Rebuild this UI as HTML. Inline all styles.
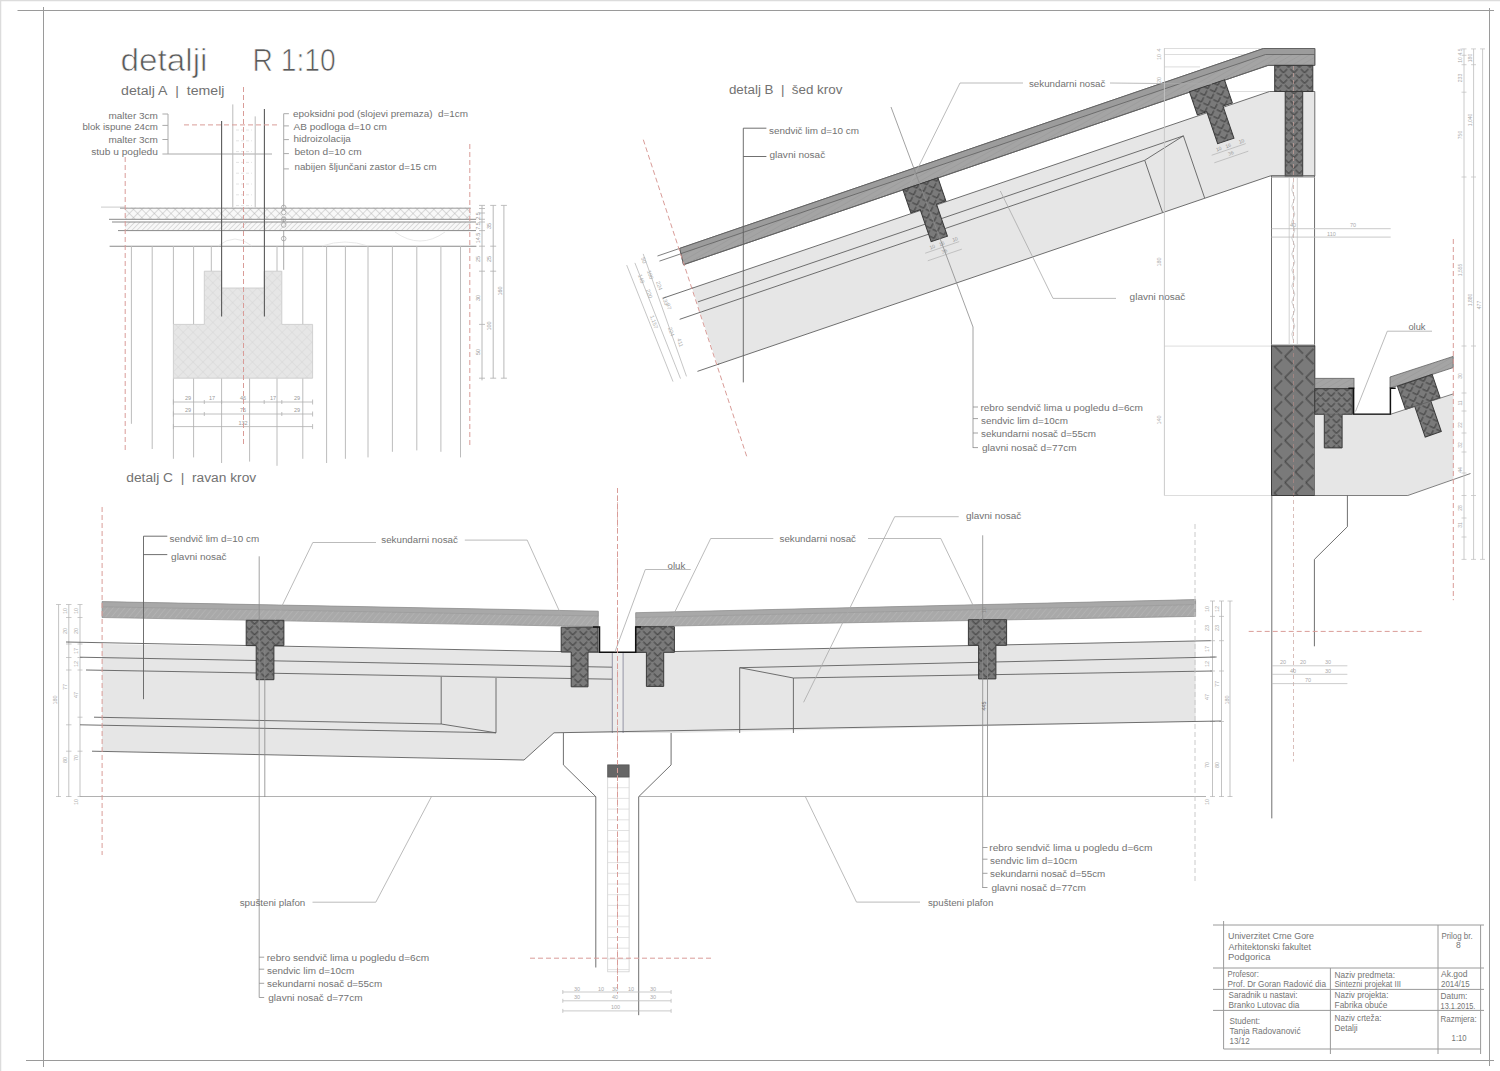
<!DOCTYPE html>
<html><head><meta charset="utf-8"><style>
html,body{margin:0;padding:0;background:#fff;width:1500px;height:1071px;overflow:hidden}
svg{display:block}
text{font-family:"Liberation Sans",sans-serif}
</style></head><body>
<svg width="1500" height="1071" viewBox="0 0 1500 1071">
<rect width="1500" height="1071" fill="#fff"/>
<defs>
<pattern id="dia" width="7.5" height="7.5" patternUnits="userSpaceOnUse" patternTransform="rotate(45)">
 <rect width="7.5" height="7.5" fill="#7a7a7a"/>
 <path d="M6.5,6.5 H1.2 M6.5,6.5 V1.2" stroke="#333" stroke-width="0.9" fill="none"/>
</pattern>
<pattern id="diaW" width="14.85" height="14.85" patternUnits="userSpaceOnUse" patternTransform="translate(1271.5,346) rotate(45)">
 <rect width="14.85" height="14.85" fill="#7a7a7a"/>
 <path d="M2,12.85 V2.05 M2,12.85 H12.8" stroke="#333" stroke-width="0.9" fill="none"/>
</pattern>
<pattern id="diaL" width="7" height="7" patternUnits="userSpaceOnUse" patternTransform="rotate(45)">
 <rect width="7" height="7" fill="#e6e6e6"/>
 <path d="M0,0 H7 M0,0 V7" stroke="#cfcfcf" stroke-width="0.7"/>
</pattern>
<pattern id="xh" width="5.9" height="5.9" patternUnits="userSpaceOnUse" patternTransform="rotate(45)">
 <rect width="5.9" height="5.9" fill="#f8f8f8"/>
 <path d="M0,0 H5.9 M0,0 V5.9" stroke="#a9a9a9" stroke-width="0.8"/>
</pattern>
<pattern id="hatch" width="3.6" height="3.6" patternUnits="userSpaceOnUse" patternTransform="rotate(45)">
 <rect width="3.6" height="3.6" fill="#f8f8f8"/>
 <path d="M0,0 V3.6" stroke="#b0b0b0" stroke-width="0.8"/>
</pattern>
<pattern id="phatch" width="4.5" height="4.5" patternUnits="userSpaceOnUse" patternTransform="rotate(40)">
 <rect width="4.5" height="4.5" fill="#a9a9a9"/>
 <path d="M0,0 V4.5" stroke="#bababa" stroke-width="1"/>
</pattern>
<pattern id="phatchB" width="4.5" height="4.5" patternUnits="userSpaceOnUse" patternTransform="rotate(60)">
 <rect width="4.5" height="4.5" fill="#a4a4a4"/>
 <path d="M0,0 V4.5" stroke="#969696" stroke-width="0.9"/>
</pattern>
</defs>
<line x1="0" y1="0.5" x2="1500" y2="0.5" stroke="#dcdcdc" stroke-width="1.5" />
<line x1="0.5" y1="0" x2="0.5" y2="1071" stroke="#dcdcdc" stroke-width="1.5" />
<line x1="17.5" y1="10.5" x2="1494" y2="10.5" stroke="#9a9a9a" stroke-width="1" />
<line x1="43.5" y1="7" x2="43.5" y2="1067" stroke="#9a9a9a" stroke-width="1" />
<line x1="26" y1="1060.5" x2="1494" y2="1060.5" stroke="#9a9a9a" stroke-width="1" />
<line x1="1489.5" y1="8" x2="1489.5" y2="1066" stroke="#9a9a9a" stroke-width="1" />
<text x="120.5" y="71.3" font-size="31" fill="#5a5a5a" text-anchor="start" textLength="87" lengthAdjust="spacingAndGlyphs" stroke="#fff" stroke-width="0.7">detalji</text>
<text x="252.5" y="71.3" font-size="30.5" fill="#5a5a5a" text-anchor="start" textLength="83.2" lengthAdjust="spacingAndGlyphs" stroke="#fff" stroke-width="0.7">R 1:10</text>
<text x="121.1" y="95" font-size="12.5" fill="#727272" text-anchor="start" textLength="103.4" lengthAdjust="spacingAndGlyphs" >detalj A&#160;&#160;|&#160;&#160;temelj</text>
<text x="728.9" y="93.7" font-size="12.5" fill="#727272" text-anchor="start" textLength="113.5" lengthAdjust="spacingAndGlyphs" >detalj B&#160;&#160;|&#160;&#160;šed krov</text>
<text x="126.3" y="481.7" font-size="12.5" fill="#727272" text-anchor="start" textLength="129.9" lengthAdjust="spacingAndGlyphs" >detalj C&#160;&#160;|&#160;&#160;ravan krov</text>
<text x="108.5" y="118.5" font-size="9.7" fill="#727272" text-anchor="start" textLength="49.4" lengthAdjust="spacingAndGlyphs" >malter 3cm</text>
<text x="82.4" y="130.3" font-size="9.7" fill="#727272" text-anchor="start" textLength="75.5" lengthAdjust="spacingAndGlyphs" >blok ispune 24cm</text>
<text x="108.5" y="143.3" font-size="9.7" fill="#727272" text-anchor="start" textLength="49.4" lengthAdjust="spacingAndGlyphs" >malter 3cm</text>
<text x="91.2" y="155.3" font-size="9.7" fill="#727272" text-anchor="start" textLength="66.7" lengthAdjust="spacingAndGlyphs" >stub u pogledu</text>
<line x1="168" y1="114" x2="168" y2="154" stroke="#aaa" stroke-width="1" />
<line x1="162.4" y1="114" x2="168" y2="114" stroke="#aaa" stroke-width="1" />
<line x1="162.4" y1="125.4" x2="168" y2="125.4" stroke="#aaa" stroke-width="1" />
<line x1="162.4" y1="139.5" x2="168" y2="139.5" stroke="#aaa" stroke-width="1" />
<line x1="162.4" y1="154" x2="272" y2="154" stroke="#aaa" stroke-width="1" />
<text x="293.1" y="116.8" font-size="9.7" fill="#727272" text-anchor="start" textLength="175" lengthAdjust="spacingAndGlyphs" >epoksidni pod (slojevi premaza)&#160;&#160;d=1cm</text>
<text x="293.5" y="129.7" font-size="9.7" fill="#727272" text-anchor="start" textLength="93.4" lengthAdjust="spacingAndGlyphs" >AB podloga d=10 cm</text>
<text x="293.5" y="142.3" font-size="9.7" fill="#727272" text-anchor="start" textLength="57.4" lengthAdjust="spacingAndGlyphs" >hidroizolacija</text>
<text x="294.5" y="155.3" font-size="9.7" fill="#727272" text-anchor="start" textLength="67.2" lengthAdjust="spacingAndGlyphs" >beton d=10 cm</text>
<text x="294.5" y="170" font-size="9.7" fill="#727272" text-anchor="start" textLength="142.1" lengthAdjust="spacingAndGlyphs" >nabijen šljunčani zastor d=15 cm</text>
<line x1="283.7" y1="113.7" x2="283.7" y2="269.8" stroke="#aaa" stroke-width="1" />
<line x1="283.7" y1="113.7" x2="288.9" y2="113.7" stroke="#aaa" stroke-width="1" />
<line x1="283.7" y1="125.9" x2="288.9" y2="125.9" stroke="#aaa" stroke-width="1" />
<line x1="283.7" y1="139.6" x2="288.9" y2="139.6" stroke="#aaa" stroke-width="1" />
<line x1="283.7" y1="153.6" x2="288.9" y2="153.6" stroke="#aaa" stroke-width="1" />
<line x1="283.7" y1="168.9" x2="288.9" y2="168.9" stroke="#aaa" stroke-width="1" />
<line x1="232.8" y1="104.4" x2="232.8" y2="207.6" stroke="#bbb" stroke-width="1" />
<line x1="255.2" y1="116.4" x2="255.2" y2="207.6" stroke="#bbb" stroke-width="1" />
<line x1="236" y1="130" x2="252" y2="130" stroke="#e4e4e4" stroke-width="1" stroke-dasharray="3,2" />
<line x1="236" y1="140.8" x2="252" y2="140.8" stroke="#e4e4e4" stroke-width="1" stroke-dasharray="3,2" />
<line x1="236" y1="151.6" x2="252" y2="151.6" stroke="#e4e4e4" stroke-width="1" stroke-dasharray="3,2" />
<line x1="236" y1="162.4" x2="252" y2="162.4" stroke="#e4e4e4" stroke-width="1" stroke-dasharray="3,2" />
<line x1="236" y1="173.2" x2="252" y2="173.2" stroke="#e4e4e4" stroke-width="1" stroke-dasharray="3,2" />
<line x1="236" y1="184" x2="252" y2="184" stroke="#e4e4e4" stroke-width="1" stroke-dasharray="3,2" />
<line x1="236" y1="194.8" x2="252" y2="194.8" stroke="#e4e4e4" stroke-width="1" stroke-dasharray="3,2" />
<line x1="236" y1="205.6" x2="252" y2="205.6" stroke="#e4e4e4" stroke-width="1" stroke-dasharray="3,2" />
<line x1="236" y1="216.4" x2="252" y2="216.4" stroke="#e4e4e4" stroke-width="1" stroke-dasharray="3,2" />
<rect x="125" y="207.6" width="345.8" height="11.4" fill="url(#xh)" stroke="none" stroke-width="1" />
<rect x="125" y="222" width="345.8" height="8.6" fill="url(#hatch)" stroke="none" stroke-width="1" />
<line x1="101" y1="207.1" x2="125" y2="207.1" stroke="#ccc" stroke-width="1" />
<line x1="120" y1="208.2" x2="470.8" y2="208.2" stroke="#9a9a9a" stroke-width="1" />
<line x1="109" y1="219.3" x2="476" y2="219.3" stroke="#8a8a8a" stroke-width="1" />
<line x1="112" y1="222" x2="476" y2="222" stroke="#8a8a8a" stroke-width="1.1" />
<line x1="118" y1="230.6" x2="476" y2="230.6" stroke="#8a8a8a" stroke-width="1" />
<line x1="109.6" y1="246.2" x2="476.4" y2="246.2" stroke="#8a8a8a" stroke-width="1.1" />
<path d="M218,246 Q235,232 252,246 M322,246 Q345,238 368,246 M395,232 Q420,250 445,232" fill="none" stroke="#e2e2e2" stroke-width="0.8"/>
<line x1="131.4" y1="246" x2="131.4" y2="423.8" stroke="#bcbcbc" stroke-width="1" />
<line x1="152.2" y1="246" x2="152.2" y2="449" stroke="#bcbcbc" stroke-width="1" />
<line x1="173.4" y1="246" x2="173.4" y2="324.4" stroke="#bcbcbc" stroke-width="1" />
<line x1="173.4" y1="378.2" x2="173.4" y2="458.8" stroke="#bcbcbc" stroke-width="1" />
<line x1="193.6" y1="246" x2="193.6" y2="324.4" stroke="#bcbcbc" stroke-width="1" />
<line x1="193.6" y1="378.2" x2="193.6" y2="457.4" stroke="#bcbcbc" stroke-width="1" />
<line x1="211.3" y1="246" x2="211.3" y2="271.2" stroke="#bcbcbc" stroke-width="1" />
<line x1="249.6" y1="378.2" x2="249.6" y2="461.6" stroke="#bcbcbc" stroke-width="1" />
<line x1="277" y1="246" x2="277" y2="271.2" stroke="#bcbcbc" stroke-width="1" />
<line x1="277" y1="378.2" x2="277" y2="465.8" stroke="#bcbcbc" stroke-width="1" />
<line x1="302.8" y1="246" x2="302.8" y2="324.4" stroke="#bcbcbc" stroke-width="1" />
<line x1="302.8" y1="378.2" x2="302.8" y2="458.8" stroke="#bcbcbc" stroke-width="1" />
<line x1="326.6" y1="246" x2="326.6" y2="463" stroke="#bcbcbc" stroke-width="1" />
<line x1="345.4" y1="246" x2="345.4" y2="458.8" stroke="#bcbcbc" stroke-width="1" />
<line x1="368" y1="246" x2="368" y2="457.4" stroke="#bcbcbc" stroke-width="1" />
<line x1="392.4" y1="246" x2="392.4" y2="451.8" stroke="#bcbcbc" stroke-width="1" />
<line x1="416.8" y1="246" x2="416.8" y2="450.4" stroke="#bcbcbc" stroke-width="1" />
<line x1="440.9" y1="246" x2="440.9" y2="451.8" stroke="#bcbcbc" stroke-width="1" />
<line x1="460.5" y1="246" x2="460.5" y2="457.4" stroke="#bcbcbc" stroke-width="1" />
<line x1="221.6" y1="378.2" x2="221.6" y2="463" stroke="#bcbcbc" stroke-width="1" />
<polygon points="204.3,271.2 221.6,271.2 221.6,288 264.2,288 264.2,271.2 281.8,271.2 281.8,324.4 312.6,324.4 312.6,378.2 173.4,378.2 173.4,324.4 204.3,324.4" fill="url(#diaL)" stroke="#c8c8c8" stroke-width="0.8" />
<circle cx="283.7" cy="207.4" r="2.3" fill="none" stroke="#999" stroke-width="0.7"/>
<circle cx="283.7" cy="212.5" r="2.3" fill="none" stroke="#999" stroke-width="0.7"/>
<circle cx="283.7" cy="219.2" r="2.3" fill="none" stroke="#999" stroke-width="0.7"/>
<circle cx="283.7" cy="225" r="2.3" fill="none" stroke="#999" stroke-width="0.7"/>
<circle cx="283.7" cy="238.6" r="2.3" fill="none" stroke="#999" stroke-width="0.7"/>
<line x1="221.6" y1="121" x2="221.6" y2="316.6" stroke="#5a5a5a" stroke-width="1.1" />
<line x1="264.4" y1="109" x2="264.4" y2="316.6" stroke="#5a5a5a" stroke-width="1.1" />
<line x1="482" y1="205.4" x2="482" y2="380.4" stroke="#b0b0b0" stroke-width="0.9" />
<line x1="493.2" y1="205.4" x2="493.2" y2="378.2" stroke="#b0b0b0" stroke-width="0.9" />
<line x1="503.9" y1="205.4" x2="503.9" y2="378.2" stroke="#b0b0b0" stroke-width="0.9" />
<line x1="479" y1="205.4" x2="485" y2="205.4" stroke="#b0b0b0" stroke-width="0.8" />
<line x1="479" y1="208.5" x2="485" y2="208.5" stroke="#b0b0b0" stroke-width="0.8" />
<line x1="479" y1="213" x2="485" y2="213" stroke="#b0b0b0" stroke-width="0.8" />
<line x1="479" y1="219.3" x2="485" y2="219.3" stroke="#b0b0b0" stroke-width="0.8" />
<line x1="479" y1="222" x2="485" y2="222" stroke="#b0b0b0" stroke-width="0.8" />
<line x1="479" y1="230.6" x2="485" y2="230.6" stroke="#b0b0b0" stroke-width="0.8" />
<line x1="479" y1="246.2" x2="485" y2="246.2" stroke="#b0b0b0" stroke-width="0.8" />
<line x1="479" y1="271.2" x2="485" y2="271.2" stroke="#b0b0b0" stroke-width="0.8" />
<line x1="479" y1="324.4" x2="485" y2="324.4" stroke="#b0b0b0" stroke-width="0.8" />
<line x1="479" y1="378.2" x2="485" y2="378.2" stroke="#b0b0b0" stroke-width="0.8" />
<line x1="490.2" y1="205.4" x2="496.2" y2="205.4" stroke="#b0b0b0" stroke-width="0.8" />
<line x1="490.2" y1="246.2" x2="496.2" y2="246.2" stroke="#b0b0b0" stroke-width="0.8" />
<line x1="490.2" y1="271.2" x2="496.2" y2="271.2" stroke="#b0b0b0" stroke-width="0.8" />
<line x1="490.2" y1="378.2" x2="496.2" y2="378.2" stroke="#b0b0b0" stroke-width="0.8" />
<line x1="500.9" y1="205.4" x2="506.9" y2="205.4" stroke="#b0b0b0" stroke-width="0.8" />
<line x1="500.9" y1="378.2" x2="506.9" y2="378.2" stroke="#b0b0b0" stroke-width="0.8" />
<text x="480" y="238" font-size="5.5" fill="#999" text-anchor="middle" transform="rotate(-90 480 238)">14.5</text>
<text x="480" y="226" font-size="5.5" fill="#999" text-anchor="middle" transform="rotate(-90 480 226)">7.5</text>
<text x="480" y="216" font-size="5.5" fill="#999" text-anchor="middle" transform="rotate(-90 480 216)">2.5</text>
<text x="491" y="259" font-size="5.5" fill="#999" text-anchor="middle" transform="rotate(-90 491 259)">25</text>
<text x="480" y="259" font-size="5.5" fill="#999" text-anchor="middle" transform="rotate(-90 480 259)">25</text>
<text x="480" y="298" font-size="5.5" fill="#999" text-anchor="middle" transform="rotate(-90 480 298)">30</text>
<text x="480" y="352" font-size="5.5" fill="#999" text-anchor="middle" transform="rotate(-90 480 352)">50</text>
<text x="491" y="326" font-size="5.5" fill="#999" text-anchor="middle" transform="rotate(-90 491 326)">100</text>
<text x="491" y="226" font-size="5.5" fill="#999" text-anchor="middle" transform="rotate(-90 491 226)">35</text>
<text x="502" y="291" font-size="5.5" fill="#999" text-anchor="middle" transform="rotate(-90 502 291)">160</text>
<line x1="173.4" y1="402" x2="312.6" y2="402" stroke="#b0b0b0" stroke-width="0.8" />
<line x1="173.4" y1="399.5" x2="173.4" y2="404.5" stroke="#b0b0b0" stroke-width="0.8" />
<line x1="312.6" y1="399.5" x2="312.6" y2="404.5" stroke="#b0b0b0" stroke-width="0.8" />
<line x1="173.4" y1="414" x2="312.6" y2="414" stroke="#b0b0b0" stroke-width="0.8" />
<line x1="173.4" y1="411.5" x2="173.4" y2="416.5" stroke="#b0b0b0" stroke-width="0.8" />
<line x1="312.6" y1="411.5" x2="312.6" y2="416.5" stroke="#b0b0b0" stroke-width="0.8" />
<line x1="173.4" y1="426.6" x2="312.6" y2="426.6" stroke="#b0b0b0" stroke-width="0.8" />
<line x1="173.4" y1="424.1" x2="173.4" y2="429.1" stroke="#b0b0b0" stroke-width="0.8" />
<line x1="312.6" y1="424.1" x2="312.6" y2="429.1" stroke="#b0b0b0" stroke-width="0.8" />
<line x1="204.3" y1="400" x2="204.3" y2="404" stroke="#b0b0b0" stroke-width="0.8" />
<line x1="221.6" y1="400" x2="221.6" y2="404" stroke="#b0b0b0" stroke-width="0.8" />
<line x1="264.2" y1="400" x2="264.2" y2="404" stroke="#b0b0b0" stroke-width="0.8" />
<line x1="281.8" y1="400" x2="281.8" y2="404" stroke="#b0b0b0" stroke-width="0.8" />
<line x1="204.3" y1="412" x2="204.3" y2="416" stroke="#b0b0b0" stroke-width="0.8" />
<line x1="281.8" y1="412" x2="281.8" y2="416" stroke="#b0b0b0" stroke-width="0.8" />
<text x="188" y="400" font-size="5.5" fill="#999" text-anchor="middle">29</text>
<text x="212" y="400" font-size="5.5" fill="#999" text-anchor="middle">17</text>
<text x="243" y="400" font-size="5.5" fill="#999" text-anchor="middle">46</text>
<text x="273" y="400" font-size="5.5" fill="#999" text-anchor="middle">17</text>
<text x="297" y="400" font-size="5.5" fill="#999" text-anchor="middle">29</text>
<text x="188" y="412" font-size="5.5" fill="#999" text-anchor="middle">29</text>
<text x="243" y="412" font-size="5.5" fill="#999" text-anchor="middle">76</text>
<text x="297" y="412" font-size="5.5" fill="#999" text-anchor="middle">29</text>
<text x="243" y="424.5" font-size="5.5" fill="#999" text-anchor="middle">132</text>
<line x1="1164.4" y1="48.5" x2="1263" y2="48.5" stroke="#d4d4d4" stroke-width="0.8" />
<line x1="1164.4" y1="54.5" x2="1265" y2="54.5" stroke="#d4d4d4" stroke-width="0.8" />
<line x1="1164.4" y1="66.9" x2="1200" y2="66.9" stroke="#d4d4d4" stroke-width="0.8" />
<line x1="1164.4" y1="91.5" x2="1270" y2="91.5" stroke="#d4d4d4" stroke-width="0.8" />
<line x1="1164.4" y1="175.9" x2="1271.5" y2="175.9" stroke="#d4d4d4" stroke-width="0.8" />
<line x1="1164.4" y1="346.1" x2="1271.5" y2="346.1" stroke="#d4d4d4" stroke-width="0.8" />
<line x1="1164.4" y1="495.5" x2="1271.5" y2="495.5" stroke="#d4d4d4" stroke-width="0.8" />
<text x="1161" y="57" font-size="5.5" fill="#aaa" text-anchor="middle" transform="rotate(-90 1161 57)">10</text>
<text x="1161" y="50" font-size="5.5" fill="#aaa" text-anchor="middle" transform="rotate(-90 1161 50)">4</text>
<text x="1161" y="80" font-size="5.5" fill="#aaa" text-anchor="middle" transform="rotate(-90 1161 80)">20</text>
<text x="1161" y="133" font-size="5.5" fill="#aaa" text-anchor="middle" transform="rotate(-90 1161 133)">80</text>
<text x="1161" y="262" font-size="5.5" fill="#aaa" text-anchor="middle" transform="rotate(-90 1161 262)">180</text>
<text x="1161" y="420" font-size="5.5" fill="#aaa" text-anchor="middle" transform="rotate(-90 1161 420)">140</text>
<line x1="626.7" y1="265.1" x2="673" y2="381.6" stroke="#b8b8b8" stroke-width="0.8" />
<line x1="634.9" y1="262.9" x2="680.5" y2="378.6" stroke="#b8b8b8" stroke-width="0.8" />
<line x1="643.2" y1="253.9" x2="686.5" y2="376.4" stroke="#b8b8b8" stroke-width="0.8" />
<text x="641" y="258" font-size="5.5" fill="#aaa" transform="rotate(71 641 258)">50</text>
<text x="647" y="271" font-size="5.5" fill="#aaa" transform="rotate(71 647 271)">100</text>
<text x="638" y="275" font-size="5.5" fill="#aaa" transform="rotate(71 638 275)">148</text>
<text x="656" y="282" font-size="5.5" fill="#aaa" transform="rotate(71 656 282)">224</text>
<text x="646" y="290" font-size="5.5" fill="#aaa" transform="rotate(71 646 290)">220</text>
<text x="662" y="297" font-size="5.5" fill="#aaa" transform="rotate(71 662 297)">133</text>
<text x="666" y="304" font-size="5.5" fill="#aaa" transform="rotate(71 666 304)">97</text>
<text x="650" y="316" font-size="5.5" fill="#aaa" transform="rotate(71 650 316)">1,157</text>
<text x="668" y="328" font-size="5.5" fill="#aaa" transform="rotate(71 668 328)">224</text>
<text x="677" y="339" font-size="5.5" fill="#aaa" transform="rotate(71 677 339)">411</text>
<polygon points="692.2,288.2 1269.5,91.5 1314.8,91.5 1314.8,175.9 1270.3,175.9 717.3,364.6" fill="#e6e6e6" stroke="none" stroke-width="0" />
<polyline points="692.2,288.2 1269.5,91.5 1314.8,91.5 1314.8,175.9 1270.3,175.9 717.3,364.6" fill="none" stroke="#606060" stroke-width="0.9" />
<polygon points="679.7,248.4 1263.5,48.5 1314.8,48.5 1314.8,65.4 1268,65.4 683.5,264.7" fill="url(#phatchB)" stroke="#606060" stroke-width="0.9" />
<polygon points="679.7,248.4 1263.5,48.5 1314.8,48.5 1314.8,54.5 1265.5,54.5 681,253.6" fill="#9c9c9c" stroke="none" stroke-width="0" />
<polyline points="681,253.6 1265.5,54.5 1314.8,54.5" fill="none" stroke="#606060" stroke-width="0.8" />
<polygon points="679.7,248.4 1263.5,48.5 1314.8,48.5 1314.8,65.4 1268,65.4 683.5,264.7" fill="none" stroke="#606060" stroke-width="0.9" />
<line x1="657.46" y1="256" x2="679.7" y2="248.4" stroke="#606060" stroke-width="0.8" />
<line x1="659.43" y1="261.14" x2="681.48" y2="253.6" stroke="#606060" stroke-width="0.8" />
<line x1="662.92" y1="298.21" x2="693.19" y2="287.86" stroke="#606060" stroke-width="0.9" />
<line x1="679.65" y1="319.33" x2="701.41" y2="311.89" stroke="#606060" stroke-width="0.9" />
<line x1="697.45" y1="371.37" x2="719.21" y2="363.93" stroke="#606060" stroke-width="0.9" />
<line x1="697.98" y1="301.86" x2="1183.38" y2="135.86" stroke="#606060" stroke-width="0.9" />
<line x1="701.41" y1="311.89" x2="1144.71" y2="160.29" stroke="#606060" stroke-width="0.9" />
<line x1="1144.71" y1="160.29" x2="1162.5" y2="212.33" stroke="#606060" stroke-width="0.9" />
<line x1="1183.38" y1="135.86" x2="1204.61" y2="197.93" stroke="#606060" stroke-width="0.9" />
<line x1="1183.38" y1="135.86" x2="1144.71" y2="160.29" stroke="#606060" stroke-width="0.9" />
<g transform="translate(679.7,248.4) rotate(-18.88)">
<polygon points="230.2,16.8 267.2,16.8 267.2,41.2 257.3,41.2 257.3,75 240.1,75 240.1,41.2 230.2,41.2" fill="url(#dia)" stroke="#3a3a3a" stroke-width="1" />
</g>
<g transform="translate(679.7,248.4) rotate(-18.88)">
<polygon points="533,16.8 570,16.8 570,41.2 560.1,41.2 560.1,75 542.9,75 542.9,41.2 533,41.2" fill="url(#dia)" stroke="#3a3a3a" stroke-width="1" />
</g>
<line x1="927.76" y1="260.8" x2="961.82" y2="249.15" stroke="#b0b0b0" stroke-width="0.7" />
<line x1="925.17" y1="253.23" x2="959.23" y2="241.58" stroke="#b0b0b0" stroke-width="0.7" />
<text x="930.2" y="249.4" font-size="5" fill="#999" transform="rotate(-18.88 930.2 249.4)">10</text>
<text x="939.66" y="246.16" font-size="5" fill="#999" transform="rotate(-18.88 939.66 246.16)">16</text>
<text x="952.91" y="241.63" font-size="5" fill="#999" transform="rotate(-18.88 952.91 241.63)">10</text>
<text x="942.25" y="253.73" font-size="5" fill="#999" transform="rotate(-18.88 942.25 253.73)">36</text>
<line x1="1214.27" y1="162.82" x2="1248.33" y2="151.17" stroke="#b0b0b0" stroke-width="0.7" />
<line x1="1211.68" y1="155.25" x2="1245.74" y2="143.6" stroke="#b0b0b0" stroke-width="0.7" />
<text x="1216.71" y="151.41" font-size="5" fill="#999" transform="rotate(-18.88 1216.71 151.41)">10</text>
<text x="1226.17" y="148.18" font-size="5" fill="#999" transform="rotate(-18.88 1226.17 148.18)">16</text>
<text x="1239.42" y="143.65" font-size="5" fill="#999" transform="rotate(-18.88 1239.42 143.65)">10</text>
<text x="1228.76" y="155.75" font-size="5" fill="#999" transform="rotate(-18.88 1228.76 155.75)">36</text>
<rect x="1274.7" y="65.4" width="38.1" height="26.1" fill="url(#dia)" stroke="#3a3a3a" stroke-width="1" />
<rect x="1285.2" y="91.5" width="17.5" height="84.4" fill="url(#dia)" stroke="#3a3a3a" stroke-width="1" />
<line x1="1293.5" y1="66" x2="1293.5" y2="761.6" stroke="#c9a29c" stroke-width="0.7" stroke-dasharray="4,3" />
<rect x="1271.5" y="175.9" width="43.1" height="169.9" fill="none" stroke="#606060" stroke-width="0.9" />
<line x1="1289.2" y1="178" x2="1289.2" y2="344" stroke="#c8c8c8" stroke-width="0.8" />
<line x1="1297.3" y1="178" x2="1297.3" y2="344" stroke="#c8c8c8" stroke-width="0.8" />
<line x1="1271.5" y1="177.5" x2="1314.6" y2="177.5" stroke="#bbb" stroke-width="0.8" />
<line x1="1271.5" y1="344.5" x2="1314.6" y2="344.5" stroke="#bbb" stroke-width="0.8" />
<path d="M1293.3,182 L1291.8,190 L1294.8,198 L1291.8,206 L1294.8,214 L1291.8,222 L1294.8,230 L1291.8,238 L1294.8,246 L1291.8,254 L1294.8,262 L1291.8,270 L1294.8,278 L1291.8,286 L1294.8,294 L1291.8,302 L1294.8,310 L1291.8,318 L1294.8,326 L1291.8,334 L1293.3,340" fill="none" stroke="#bbb" stroke-width="0.7"/>
<line x1="1271.5" y1="228.7" x2="1390.7" y2="228.7" stroke="#bdbdbd" stroke-width="0.8" />
<line x1="1271.5" y1="237.1" x2="1390.7" y2="237.1" stroke="#bdbdbd" stroke-width="0.8" />
<text x="1350" y="227" font-size="5.5" fill="#aaa">70</text><text x="1327" y="235.5" font-size="5.5" fill="#aaa">110</text><text x="1290" y="227" font-size="5.5" fill="#aaa">40</text>
<rect x="1271.5" y="346.1" width="43.3" height="149.4" fill="url(#diaW)" stroke="#3a3a3a" stroke-width="1" />
<line x1="1293.5" y1="346" x2="1293.5" y2="495" stroke="#b08a85" stroke-width="0.7" stroke-dasharray="4,3" />
<polygon points="1314.8,414.3 1390.4,414.3 1453.5,393.8 1453.5,479 1407.8,495.5 1314.8,495.5" fill="#e6e6e6" stroke="none" stroke-width="0" />
<line x1="1407.8" y1="495.5" x2="1470.5" y2="473.5" stroke="#606060" stroke-width="0.8" />
<line x1="1314.8" y1="495.5" x2="1407.8" y2="495.5" stroke="#606060" stroke-width="0.8" />
<rect x="1314.8" y="378.3" width="39.2" height="10.4" fill="url(#phatchB)" stroke="#606060" stroke-width="0.8" />
<polygon points="1314.8,388.7 1352.3,388.7 1352.3,414.3 1342.1,414.3 1342.1,447.9 1324.3,447.9 1324.3,414.3 1314.8,414.3" fill="url(#dia)" stroke="#3a3a3a" stroke-width="1" />
<polygon points="1390,377 1453.2,356.4 1453.2,367.6 1390,388.2" fill="url(#phatchB)" stroke="#606060" stroke-width="0.8" />
<g transform="translate(1397.5,386.3) rotate(-18.88)">
<polygon points="0,0 36.6,0 36.6,24.5 26.8,24.5 26.8,57 9.8,57 9.8,24.5 0,24.5" fill="url(#dia)" stroke="#3a3a3a" stroke-width="1" />
</g>
<polyline points="1348.4,388.2 1353.6,388.2 1353.6,414.3 1390.4,414.3 1390.4,388.2 1395.7,388.2" fill="none" stroke="#111" stroke-width="1.5" />
<line x1="1314.8" y1="414.3" x2="1390.4" y2="414.3" stroke="#606060" stroke-width="0.6" />
<line x1="1390.4" y1="414.3" x2="1453.5" y2="393.8" stroke="#606060" stroke-width="0.8" />
<line x1="1271.8" y1="495.5" x2="1271.8" y2="818.4" stroke="#606060" stroke-width="0.9" />
<polyline points="1347.4,495.5 1347.4,526.7 1314.4,559.4 1314.4,646.3" fill="none" stroke="#606060" stroke-width="0.9" />
<line x1="1271.8" y1="665.8" x2="1347.4" y2="665.8" stroke="#b8b8b8" stroke-width="0.7" />
<line x1="1271.8" y1="674.3" x2="1347.4" y2="674.3" stroke="#b8b8b8" stroke-width="0.7" />
<line x1="1271.8" y1="683.6" x2="1347.4" y2="683.6" stroke="#b8b8b8" stroke-width="0.7" />
<text x="1280" y="664" font-size="5.5" fill="#aaa">20</text><text x="1300" y="664" font-size="5.5" fill="#aaa">20</text><text x="1325" y="664" font-size="5.5" fill="#aaa">30</text><text x="1290" y="672.5" font-size="5.5" fill="#aaa">40</text><text x="1325" y="672.5" font-size="5.5" fill="#aaa">30</text><text x="1305" y="682" font-size="5.5" fill="#aaa">70</text>
<line x1="1464" y1="48.9" x2="1464" y2="559.4" stroke="#bdbdbd" stroke-width="0.8" />
<line x1="1473.6" y1="48.9" x2="1473.6" y2="559.4" stroke="#bdbdbd" stroke-width="0.8" />
<line x1="1482.6" y1="48.9" x2="1482.6" y2="559.4" stroke="#bdbdbd" stroke-width="0.8" />
<line x1="1461.5" y1="48.9" x2="1466.5" y2="48.9" stroke="#bdbdbd" stroke-width="0.7" />
<line x1="1461.5" y1="55.3" x2="1466.5" y2="55.3" stroke="#bdbdbd" stroke-width="0.7" />
<line x1="1461.5" y1="64.7" x2="1466.5" y2="64.7" stroke="#bdbdbd" stroke-width="0.7" />
<line x1="1461.5" y1="92.2" x2="1466.5" y2="92.2" stroke="#bdbdbd" stroke-width="0.7" />
<line x1="1461.5" y1="177" x2="1466.5" y2="177" stroke="#bdbdbd" stroke-width="0.7" />
<line x1="1461.5" y1="346" x2="1466.5" y2="346" stroke="#bdbdbd" stroke-width="0.7" />
<line x1="1461.5" y1="393" x2="1466.5" y2="393" stroke="#bdbdbd" stroke-width="0.7" />
<line x1="1461.5" y1="411" x2="1466.5" y2="411" stroke="#bdbdbd" stroke-width="0.7" />
<line x1="1461.5" y1="433" x2="1466.5" y2="433" stroke="#bdbdbd" stroke-width="0.7" />
<line x1="1461.5" y1="452" x2="1466.5" y2="452" stroke="#bdbdbd" stroke-width="0.7" />
<line x1="1461.5" y1="473" x2="1466.5" y2="473" stroke="#bdbdbd" stroke-width="0.7" />
<line x1="1461.5" y1="495.5" x2="1466.5" y2="495.5" stroke="#bdbdbd" stroke-width="0.7" />
<line x1="1461.5" y1="518" x2="1466.5" y2="518" stroke="#bdbdbd" stroke-width="0.7" />
<line x1="1461.5" y1="537" x2="1466.5" y2="537" stroke="#bdbdbd" stroke-width="0.7" />
<line x1="1461.5" y1="559.4" x2="1466.5" y2="559.4" stroke="#bdbdbd" stroke-width="0.7" />
<line x1="1471" y1="48.9" x2="1476" y2="48.9" stroke="#bdbdbd" stroke-width="0.7" />
<line x1="1471" y1="64.7" x2="1476" y2="64.7" stroke="#bdbdbd" stroke-width="0.7" />
<line x1="1471" y1="177" x2="1476" y2="177" stroke="#bdbdbd" stroke-width="0.7" />
<line x1="1471" y1="346" x2="1476" y2="346" stroke="#bdbdbd" stroke-width="0.7" />
<line x1="1471" y1="495.5" x2="1476" y2="495.5" stroke="#bdbdbd" stroke-width="0.7" />
<line x1="1471" y1="559.4" x2="1476" y2="559.4" stroke="#bdbdbd" stroke-width="0.7" />
<line x1="1480" y1="48.9" x2="1485" y2="48.9" stroke="#bdbdbd" stroke-width="0.7" />
<line x1="1480" y1="559.4" x2="1485" y2="559.4" stroke="#bdbdbd" stroke-width="0.7" />
<text x="1462" y="52" font-size="5" fill="#aaa" text-anchor="middle" transform="rotate(-90 1462 52)">4.5</text>
<text x="1462" y="60" font-size="5" fill="#aaa" text-anchor="middle" transform="rotate(-90 1462 60)">10</text>
<text x="1462" y="78" font-size="5" fill="#aaa" text-anchor="middle" transform="rotate(-90 1462 78)">233</text>
<text x="1462" y="135" font-size="5" fill="#aaa" text-anchor="middle" transform="rotate(-90 1462 135)">750</text>
<text x="1462" y="470" font-size="5" fill="#aaa" text-anchor="middle" transform="rotate(-90 1462 470)">44</text>
<text x="1462" y="508" font-size="5" fill="#aaa" text-anchor="middle" transform="rotate(-90 1462 508)">28</text>
<text x="1462" y="525" font-size="5" fill="#aaa" text-anchor="middle" transform="rotate(-90 1462 525)">31</text>
<text x="1462" y="376" font-size="5" fill="#aaa" text-anchor="middle" transform="rotate(-90 1462 376)">30</text>
<text x="1462" y="403" font-size="5" fill="#aaa" text-anchor="middle" transform="rotate(-90 1462 403)">11</text>
<text x="1462" y="425" font-size="5" fill="#aaa" text-anchor="middle" transform="rotate(-90 1462 425)">22</text>
<text x="1462" y="445" font-size="5" fill="#aaa" text-anchor="middle" transform="rotate(-90 1462 445)">32</text>
<text x="1471.5" y="58" font-size="5" fill="#aaa" text-anchor="middle" transform="rotate(-90 1471.5 58)">180</text>
<text x="1471.5" y="120" font-size="5" fill="#aaa" text-anchor="middle" transform="rotate(-90 1471.5 120)">1,040</text>
<text x="1471.5" y="300" font-size="5" fill="#aaa" text-anchor="middle" transform="rotate(-90 1471.5 300)">1,880</text>
<text x="1480.5" y="305" font-size="5" fill="#aaa" text-anchor="middle" transform="rotate(-90 1480.5 305)">477</text>
<text x="1462" y="270" font-size="5" fill="#aaa" text-anchor="middle" transform="rotate(-90 1462 270)">1,555</text>
<text x="769" y="134.2" font-size="9.7" fill="#727272" text-anchor="start" textLength="89.9" lengthAdjust="spacingAndGlyphs" >sendvič lim d=10 cm</text>
<text x="769.5" y="157.8" font-size="9.7" fill="#727272" text-anchor="start" textLength="55.7" lengthAdjust="spacingAndGlyphs" >glavni nosač</text>
<line x1="743.3" y1="128.2" x2="743.3" y2="382.4" stroke="#606060" stroke-width="0.9" />
<line x1="743.3" y1="128.2" x2="766.4" y2="128.2" stroke="#606060" stroke-width="0.9" />
<line x1="743.3" y1="156.5" x2="766.4" y2="156.5" stroke="#606060" stroke-width="0.9" />
<text x="1029" y="86.6" font-size="9.7" fill="#727272" text-anchor="start" textLength="76.4" lengthAdjust="spacingAndGlyphs" >sekundarni nosač</text>
<polyline points="1023,83 960,83 909,186" fill="none" stroke="#aaa" stroke-width="0.8" />
<polyline points="1110,83 1212,84" fill="none" stroke="#aaa" stroke-width="0.8" />
<polyline points="891,107 973,327 973,448" fill="none" stroke="#8a8a8a" stroke-width="0.8" />
<line x1="973" y1="407" x2="978" y2="407" stroke="#8a8a8a" stroke-width="0.8" />
<line x1="973" y1="418.6" x2="978" y2="418.6" stroke="#8a8a8a" stroke-width="0.8" />
<line x1="973" y1="433" x2="978" y2="433" stroke="#8a8a8a" stroke-width="0.8" />
<line x1="973" y1="447.6" x2="978" y2="447.6" stroke="#8a8a8a" stroke-width="0.8" />
<text x="980.4" y="411" font-size="9.7" fill="#727272" text-anchor="start" textLength="162.6" lengthAdjust="spacingAndGlyphs" >rebro sendvič lima u pogledu d=6cm</text>
<text x="981" y="424" font-size="9.7" fill="#727272" text-anchor="start" textLength="87" lengthAdjust="spacingAndGlyphs" >sendvic lim d=10cm</text>
<text x="981" y="437" font-size="9.7" fill="#727272" text-anchor="start" textLength="115" lengthAdjust="spacingAndGlyphs" >sekundarni nosač d=55cm</text>
<text x="982" y="451" font-size="9.7" fill="#727272" text-anchor="start" textLength="94.6" lengthAdjust="spacingAndGlyphs" >glavni nosač d=77cm</text>
<text x="1129.6" y="300.4" font-size="9.7" fill="#727272" text-anchor="start" textLength="55.8" lengthAdjust="spacingAndGlyphs" >glavni nosač</text>
<polyline points="1116,298.4 1053,298.4 1000.3,191" fill="none" stroke="#aaa" stroke-width="0.8" />
<text x="1408.4" y="329.7" font-size="9.7" fill="#727272" text-anchor="start" textLength="17.1" lengthAdjust="spacingAndGlyphs" >oluk</text>
<polyline points="1432,331.2 1387.3,331.2 1355.5,411.5" fill="none" stroke="#aaa" stroke-width="0.8" />
<line x1="58.6" y1="604.5" x2="58.6" y2="797" stroke="#b4b4b4" stroke-width="0.8" />
<line x1="68.8" y1="604.5" x2="68.8" y2="797" stroke="#b4b4b4" stroke-width="0.8" />
<line x1="80" y1="604.5" x2="80" y2="797" stroke="#b4b4b4" stroke-width="0.8" />
<line x1="66" y1="604.5" x2="71.5" y2="604.5" stroke="#b4b4b4" stroke-width="0.7" />
<line x1="66" y1="617.5" x2="71.5" y2="617.5" stroke="#b4b4b4" stroke-width="0.7" />
<line x1="66" y1="644" x2="71.5" y2="644" stroke="#b4b4b4" stroke-width="0.7" />
<line x1="66" y1="657.5" x2="71.5" y2="657.5" stroke="#b4b4b4" stroke-width="0.7" />
<line x1="66" y1="670" x2="71.5" y2="670" stroke="#b4b4b4" stroke-width="0.7" />
<line x1="66" y1="724.8" x2="71.5" y2="724.8" stroke="#b4b4b4" stroke-width="0.7" />
<line x1="66" y1="751.2" x2="71.5" y2="751.2" stroke="#b4b4b4" stroke-width="0.7" />
<line x1="66" y1="796.5" x2="71.5" y2="796.5" stroke="#b4b4b4" stroke-width="0.7" />
<line x1="77.5" y1="604.5" x2="82.5" y2="604.5" stroke="#b4b4b4" stroke-width="0.7" />
<line x1="77.5" y1="617.5" x2="82.5" y2="617.5" stroke="#b4b4b4" stroke-width="0.7" />
<line x1="77.5" y1="644" x2="82.5" y2="644" stroke="#b4b4b4" stroke-width="0.7" />
<line x1="77.5" y1="657.5" x2="82.5" y2="657.5" stroke="#b4b4b4" stroke-width="0.7" />
<line x1="77.5" y1="670" x2="82.5" y2="670" stroke="#b4b4b4" stroke-width="0.7" />
<line x1="77.5" y1="717.2" x2="82.5" y2="717.2" stroke="#b4b4b4" stroke-width="0.7" />
<line x1="77.5" y1="751.2" x2="82.5" y2="751.2" stroke="#b4b4b4" stroke-width="0.7" />
<line x1="77.5" y1="796.5" x2="82.5" y2="796.5" stroke="#b4b4b4" stroke-width="0.7" />
<line x1="56" y1="604.5" x2="61" y2="604.5" stroke="#b4b4b4" stroke-width="0.7" />
<line x1="56" y1="796.5" x2="61" y2="796.5" stroke="#b4b4b4" stroke-width="0.7" />
<text x="67" y="611" font-size="5.5" fill="#aaa" text-anchor="middle" transform="rotate(-90 67 611)">10</text>
<text x="78" y="611" font-size="5.5" fill="#aaa" text-anchor="middle" transform="rotate(-90 78 611)">10</text>
<text x="67" y="631" font-size="5.5" fill="#aaa" text-anchor="middle" transform="rotate(-90 67 631)">20</text>
<text x="78" y="631" font-size="5.5" fill="#aaa" text-anchor="middle" transform="rotate(-90 78 631)">20</text>
<text x="78" y="651" font-size="5.5" fill="#aaa" text-anchor="middle" transform="rotate(-90 78 651)">17</text>
<text x="78" y="664" font-size="5.5" fill="#aaa" text-anchor="middle" transform="rotate(-90 78 664)">12</text>
<text x="67" y="687" font-size="5.5" fill="#aaa" text-anchor="middle" transform="rotate(-90 67 687)">77</text>
<text x="78" y="695" font-size="5.5" fill="#aaa" text-anchor="middle" transform="rotate(-90 78 695)">47</text>
<text x="57" y="700" font-size="5.5" fill="#aaa" text-anchor="middle" transform="rotate(-90 57 700)">180</text>
<text x="67" y="760" font-size="5.5" fill="#aaa" text-anchor="middle" transform="rotate(-90 67 760)">80</text>
<text x="78" y="758" font-size="5.5" fill="#aaa" text-anchor="middle" transform="rotate(-90 78 758)">70</text>
<text x="78" y="802" font-size="5.5" fill="#aaa" text-anchor="middle" transform="rotate(-90 78 802)">10</text>
<line x1="1212.5" y1="601" x2="1212.5" y2="797" stroke="#b4b4b4" stroke-width="0.8" />
<line x1="1221.5" y1="601" x2="1221.5" y2="797" stroke="#b4b4b4" stroke-width="0.8" />
<line x1="1230" y1="601" x2="1230" y2="797" stroke="#b4b4b4" stroke-width="0.8" />
<line x1="1210" y1="601" x2="1215" y2="601" stroke="#b4b4b4" stroke-width="0.7" />
<line x1="1210" y1="616.4" x2="1215" y2="616.4" stroke="#b4b4b4" stroke-width="0.7" />
<line x1="1210" y1="640.7" x2="1215" y2="640.7" stroke="#b4b4b4" stroke-width="0.7" />
<line x1="1210" y1="657" x2="1215" y2="657" stroke="#b4b4b4" stroke-width="0.7" />
<line x1="1210" y1="671" x2="1215" y2="671" stroke="#b4b4b4" stroke-width="0.7" />
<line x1="1210" y1="721.5" x2="1215" y2="721.5" stroke="#b4b4b4" stroke-width="0.7" />
<line x1="1210" y1="796.5" x2="1215" y2="796.5" stroke="#b4b4b4" stroke-width="0.7" />
<line x1="1219" y1="601" x2="1224" y2="601" stroke="#b4b4b4" stroke-width="0.7" />
<line x1="1219" y1="616.4" x2="1224" y2="616.4" stroke="#b4b4b4" stroke-width="0.7" />
<line x1="1219" y1="640.7" x2="1224" y2="640.7" stroke="#b4b4b4" stroke-width="0.7" />
<line x1="1219" y1="671" x2="1224" y2="671" stroke="#b4b4b4" stroke-width="0.7" />
<line x1="1219" y1="721.5" x2="1224" y2="721.5" stroke="#b4b4b4" stroke-width="0.7" />
<line x1="1219" y1="796.5" x2="1224" y2="796.5" stroke="#b4b4b4" stroke-width="0.7" />
<line x1="1227.5" y1="601" x2="1232.5" y2="601" stroke="#b4b4b4" stroke-width="0.7" />
<line x1="1227.5" y1="796.5" x2="1232.5" y2="796.5" stroke="#b4b4b4" stroke-width="0.7" />
<text x="1209" y="609" font-size="5.5" fill="#aaa" text-anchor="middle" transform="rotate(-90 1209 609)">10</text>
<text x="1219" y="609" font-size="5.5" fill="#aaa" text-anchor="middle" transform="rotate(-90 1219 609)">12</text>
<text x="1209" y="628" font-size="5.5" fill="#aaa" text-anchor="middle" transform="rotate(-90 1209 628)">23</text>
<text x="1219" y="628" font-size="5.5" fill="#aaa" text-anchor="middle" transform="rotate(-90 1219 628)">23</text>
<text x="1209" y="649" font-size="5.5" fill="#aaa" text-anchor="middle" transform="rotate(-90 1209 649)">17</text>
<text x="1209" y="664" font-size="5.5" fill="#aaa" text-anchor="middle" transform="rotate(-90 1209 664)">12</text>
<text x="1219" y="684" font-size="5.5" fill="#aaa" text-anchor="middle" transform="rotate(-90 1219 684)">77</text>
<text x="1209" y="697" font-size="5.5" fill="#aaa" text-anchor="middle" transform="rotate(-90 1209 697)">47</text>
<text x="1229" y="700" font-size="5.5" fill="#aaa" text-anchor="middle" transform="rotate(-90 1229 700)">180</text>
<text x="1209" y="765" font-size="5.5" fill="#aaa" text-anchor="middle" transform="rotate(-90 1209 765)">70</text>
<text x="1219" y="765" font-size="5.5" fill="#aaa" text-anchor="middle" transform="rotate(-90 1219 765)">80</text>
<text x="1209" y="802" font-size="5.5" fill="#aaa" text-anchor="middle" transform="rotate(-90 1209 802)">10</text>
<line x1="80" y1="796.5" x2="596" y2="796.5" stroke="#a8a8a8" stroke-width="0.9" />
<line x1="638.7" y1="796.5" x2="1206" y2="796.5" stroke="#a8a8a8" stroke-width="0.9" />
<polygon points="102,644 599,652.3 636,652.3 1195.6,640.7 1195.6,721.5 670.7,733 554,732.8 524,760 102,751.2" fill="#e6e6e6" stroke="none" stroke-width="0" />
<rect x="612.3" y="652.3" width="10.8" height="80.7" fill="#ececec" stroke="none" stroke-width="1" />
<line x1="612.3" y1="652.3" x2="612.3" y2="733" stroke="#8a8a9e" stroke-width="0.9" />
<line x1="623.1" y1="652.3" x2="623.1" y2="733" stroke="#8a8a9e" stroke-width="0.9" />
<line x1="66" y1="642" x2="599" y2="652.3" stroke="#606060" stroke-width="0.9" />
<line x1="636" y1="652.3" x2="1210.6" y2="640.7" stroke="#606060" stroke-width="0.9" />
<line x1="80" y1="657.2" x2="612" y2="667.2" stroke="#606060" stroke-width="0.9" />
<line x1="86" y1="670" x2="612" y2="679.2" stroke="#606060" stroke-width="0.9" />
<line x1="739.7" y1="667.7" x2="1216.6" y2="657" stroke="#606060" stroke-width="0.9" />
<line x1="793.4" y1="678" x2="1212" y2="671" stroke="#606060" stroke-width="0.9" />
<line x1="94" y1="717.2" x2="441.2" y2="724" stroke="#606060" stroke-width="0.9" />
<line x1="80" y1="724.8" x2="496" y2="732.8" stroke="#606060" stroke-width="0.9" />
<line x1="92" y1="751.2" x2="524" y2="760" stroke="#606060" stroke-width="0.9" />
<polyline points="524,760 554,732.8 1221,721" fill="none" stroke="#606060" stroke-width="0.9" />
<line x1="441.2" y1="676.8" x2="441.2" y2="724" stroke="#606060" stroke-width="0.9" />
<line x1="496" y1="678" x2="496" y2="732.8" stroke="#606060" stroke-width="0.9" />
<line x1="441.2" y1="724" x2="496" y2="732.8" stroke="#606060" stroke-width="0.9" />
<line x1="739.7" y1="667.7" x2="739.7" y2="733" stroke="#606060" stroke-width="0.9" />
<line x1="793.4" y1="678" x2="793.4" y2="733" stroke="#606060" stroke-width="0.9" />
<line x1="739.7" y1="667.7" x2="793.4" y2="678" stroke="#606060" stroke-width="0.9" />
<polygon points="102,601.6 598.3,611.2 598.3,626.7 102,617.5" fill="url(#phatch)" stroke="none" stroke-width="0" />
<polygon points="102,601.6 598.3,611.2 598.3,616 102,606.8" fill="#a8a8a8" stroke="none" stroke-width="0" />
<line x1="102" y1="606.8" x2="598.3" y2="616" stroke="#999" stroke-width="0.6" />
<polygon points="102,601.6 598.3,611.2 598.3,626.7 102,617.5" fill="none" stroke="#8c8c8c" stroke-width="0.7" />
<polygon points="635.7,612.7 1195.6,599.6 1195.6,616.4 635.7,626.7" fill="url(#phatch)" stroke="none" stroke-width="0" />
<polygon points="635.7,612.7 1195.6,599.6 1195.6,604.6 635.7,617.5" fill="#a8a8a8" stroke="none" stroke-width="0" />
<line x1="635.7" y1="617.5" x2="1195.6" y2="604.6" stroke="#999" stroke-width="0.6" />
<polygon points="635.7,612.7 1195.6,599.6 1195.6,616.4 635.7,626.7" fill="none" stroke="#8c8c8c" stroke-width="0.7" />
<polygon points="246.2,620.3 283.9,620.3 283.9,645.6 273.9,645.6 273.9,679.7 256.2,679.7 256.2,645.6 246.2,645.6" fill="url(#dia)" stroke="#3a3a3a" stroke-width="1" />
<polygon points="561.2,627.2 598,627.2 598,652 588,652 588,686.8 571.2,686.8 571.2,652 561.2,652" fill="url(#dia)" stroke="#3a3a3a" stroke-width="1" />
<polygon points="635.7,626.7 674.4,626.7 674.4,652.3 663.7,652.3 663.7,686.4 646.4,686.4 646.4,652.3 635.7,652.3" fill="url(#dia)" stroke="#3a3a3a" stroke-width="1" />
<polygon points="968.4,619.7 1006.6,619.7 1006.6,645.3 995.9,645.3 995.9,678.9 978.6,678.9 978.6,645.3 968.4,645.3" fill="url(#dia)" stroke="#3a3a3a" stroke-width="1" />
<polyline points="593,627 599.5,627 599.5,652.3 635.7,652.3 635.7,627 641,627" fill="none" stroke="#111" stroke-width="1.5" />
<polyline points="563.4,733 563.4,764.9 595.8,796.7 595.8,967.5" fill="none" stroke="#606060" stroke-width="0.9" />
<polyline points="671.1,733 671.1,764.9 638.7,796.7 638.7,1015.2" fill="none" stroke="#606060" stroke-width="0.9" />
<rect x="607.7" y="777" width="21.4" height="194.8" fill="none" stroke="#d0d0d0" stroke-width="0.8" />
<line x1="607.7" y1="787.7" x2="629.1" y2="787.7" stroke="#dadada" stroke-width="0.8" />
<line x1="607.7" y1="798.4" x2="629.1" y2="798.4" stroke="#dadada" stroke-width="0.8" />
<line x1="607.7" y1="809.1" x2="629.1" y2="809.1" stroke="#dadada" stroke-width="0.8" />
<line x1="607.7" y1="819.8" x2="629.1" y2="819.8" stroke="#dadada" stroke-width="0.8" />
<line x1="607.7" y1="830.5" x2="629.1" y2="830.5" stroke="#dadada" stroke-width="0.8" />
<line x1="607.7" y1="841.2" x2="629.1" y2="841.2" stroke="#dadada" stroke-width="0.8" />
<line x1="607.7" y1="851.9" x2="629.1" y2="851.9" stroke="#dadada" stroke-width="0.8" />
<line x1="607.7" y1="862.6" x2="629.1" y2="862.6" stroke="#dadada" stroke-width="0.8" />
<line x1="607.7" y1="873.3" x2="629.1" y2="873.3" stroke="#dadada" stroke-width="0.8" />
<line x1="607.7" y1="884" x2="629.1" y2="884" stroke="#dadada" stroke-width="0.8" />
<line x1="607.7" y1="894.7" x2="629.1" y2="894.7" stroke="#dadada" stroke-width="0.8" />
<line x1="607.7" y1="905.4" x2="629.1" y2="905.4" stroke="#dadada" stroke-width="0.8" />
<line x1="607.7" y1="916.1" x2="629.1" y2="916.1" stroke="#dadada" stroke-width="0.8" />
<line x1="607.7" y1="926.8" x2="629.1" y2="926.8" stroke="#dadada" stroke-width="0.8" />
<line x1="607.7" y1="937.5" x2="629.1" y2="937.5" stroke="#dadada" stroke-width="0.8" />
<line x1="607.7" y1="948.2" x2="629.1" y2="948.2" stroke="#dadada" stroke-width="0.8" />
<line x1="607.7" y1="958.9" x2="629.1" y2="958.9" stroke="#dadada" stroke-width="0.8" />
<line x1="607.7" y1="969.6" x2="629.1" y2="969.6" stroke="#dadada" stroke-width="0.8" />
<rect x="607.7" y="764.9" width="21.4" height="12.1" fill="#666" stroke="#555" stroke-width="0.8" />
<line x1="617.5" y1="488" x2="617.5" y2="993.5" stroke="#d8a8a0" stroke-width="0.7" stroke-dasharray="4,3" />
<line x1="562.8" y1="992" x2="671.1" y2="992" stroke="#b4b4b4" stroke-width="0.7" />
<line x1="562.8" y1="990" x2="562.8" y2="994" stroke="#b4b4b4" stroke-width="0.7" />
<line x1="671.1" y1="990" x2="671.1" y2="994" stroke="#b4b4b4" stroke-width="0.7" />
<line x1="562.8" y1="1000.8" x2="671.1" y2="1000.8" stroke="#b4b4b4" stroke-width="0.7" />
<line x1="562.8" y1="998.8" x2="562.8" y2="1002.8" stroke="#b4b4b4" stroke-width="0.7" />
<line x1="671.1" y1="998.8" x2="671.1" y2="1002.8" stroke="#b4b4b4" stroke-width="0.7" />
<line x1="562.8" y1="1010.9" x2="671.1" y2="1010.9" stroke="#b4b4b4" stroke-width="0.7" />
<line x1="562.8" y1="1008.9" x2="562.8" y2="1012.9" stroke="#b4b4b4" stroke-width="0.7" />
<line x1="671.1" y1="1008.9" x2="671.1" y2="1012.9" stroke="#b4b4b4" stroke-width="0.7" />
<text x="574" y="990.5" font-size="5.5" fill="#aaa">30</text><text x="598" y="990.5" font-size="5.5" fill="#aaa">10</text><text x="612" y="990.5" font-size="5.5" fill="#aaa">30</text><text x="628" y="990.5" font-size="5.5" fill="#aaa">10</text><text x="650" y="990.5" font-size="5.5" fill="#aaa">30</text>
<text x="574" y="999.3" font-size="5.5" fill="#aaa">30</text><text x="612" y="999.3" font-size="5.5" fill="#aaa">40</text><text x="650" y="999.3" font-size="5.5" fill="#aaa">30</text><text x="611" y="1009.4" font-size="5.5" fill="#aaa">100</text>
<text x="169.5" y="541.8" font-size="9.7" fill="#727272" text-anchor="start" textLength="89.6" lengthAdjust="spacingAndGlyphs" >sendvič lim d=10 cm</text>
<text x="171.1" y="559.7" font-size="9.7" fill="#727272" text-anchor="start" textLength="55.5" lengthAdjust="spacingAndGlyphs" >glavni nosač</text>
<line x1="143.5" y1="536.2" x2="143.5" y2="699.2" stroke="#606060" stroke-width="0.9" />
<line x1="143.5" y1="536.2" x2="167.3" y2="536.2" stroke="#606060" stroke-width="0.9" />
<line x1="143.5" y1="554.6" x2="167.3" y2="554.6" stroke="#606060" stroke-width="0.9" />
<text x="381.3" y="542.5" font-size="9.7" fill="#727272" text-anchor="start" textLength="76.6" lengthAdjust="spacingAndGlyphs" >sekundarni nosač</text>
<polyline points="376,542.5 312.8,542.5 275,620.3" fill="none" stroke="#aaa" stroke-width="0.8" />
<polyline points="464.8,540.1 527.2,540.1 566.7,627.2" fill="none" stroke="#aaa" stroke-width="0.8" />
<text x="667.5" y="568.7" font-size="9.7" fill="#727272" text-anchor="start" textLength="17.8" lengthAdjust="spacingAndGlyphs" >oluk</text>
<polyline points="690.7,569.5 645.3,569.5 614.9,652" fill="none" stroke="#aaa" stroke-width="0.8" />
<text x="779.5" y="542" font-size="9.7" fill="#727272" text-anchor="start" textLength="76.5" lengthAdjust="spacingAndGlyphs" >sekundarni nosač</text>
<polyline points="773.3,538.5 710.7,538.5 667.6,626.7" fill="none" stroke="#aaa" stroke-width="0.8" />
<polyline points="868,538.5 940.8,538.5 980,619.7" fill="none" stroke="#aaa" stroke-width="0.8" />
<text x="965.9" y="519.3" font-size="9.7" fill="#727272" text-anchor="start" textLength="55.4" lengthAdjust="spacingAndGlyphs" >glavni nosač</text>
<polyline points="958.7,516.7 894.7,516.7 803.6,702.3" fill="none" stroke="#aaa" stroke-width="0.8" />
<line x1="982.7" y1="535.3" x2="982.7" y2="888" stroke="#8a8a8a" stroke-width="0.8" />
<line x1="982.7" y1="847.5" x2="987.5" y2="847.5" stroke="#8a8a8a" stroke-width="0.8" />
<line x1="982.7" y1="859.2" x2="987.5" y2="859.2" stroke="#8a8a8a" stroke-width="0.8" />
<line x1="982.7" y1="873.3" x2="987.5" y2="873.3" stroke="#8a8a8a" stroke-width="0.8" />
<line x1="982.7" y1="887.5" x2="987.5" y2="887.5" stroke="#8a8a8a" stroke-width="0.8" />
<line x1="987.5" y1="645" x2="987.5" y2="796.5" stroke="#888" stroke-width="0.8" />
<text x="985.5" y="706" font-size="5.5" fill="#666" text-anchor="middle" transform="rotate(-90 985.5 706)">445</text>
<text x="985.5" y="610" font-size="5" fill="#888" text-anchor="middle" transform="rotate(-90 985.5 610)">10</text>
<text x="989.3" y="850.7" font-size="9.7" fill="#727272" text-anchor="start" textLength="163.2" lengthAdjust="spacingAndGlyphs" >rebro sendvič lima u pogledu d=6cm</text>
<text x="990" y="863.5" font-size="9.7" fill="#727272" text-anchor="start" textLength="87.3" lengthAdjust="spacingAndGlyphs" >sendvic lim d=10cm</text>
<text x="990" y="876.5" font-size="9.7" fill="#727272" text-anchor="start" textLength="115.3" lengthAdjust="spacingAndGlyphs" >sekundarni nosač d=55cm</text>
<text x="991.5" y="890.7" font-size="9.7" fill="#727272" text-anchor="start" textLength="94.4" lengthAdjust="spacingAndGlyphs" >glavni nosač d=77cm</text>
<line x1="259.2" y1="556.3" x2="259.2" y2="997.5" stroke="#8a8a8a" stroke-width="0.8" />
<line x1="259.2" y1="957.2" x2="264.2" y2="957.2" stroke="#8a8a8a" stroke-width="0.8" />
<line x1="259.2" y1="969.2" x2="264.2" y2="969.2" stroke="#8a8a8a" stroke-width="0.8" />
<line x1="259.2" y1="983.3" x2="264.2" y2="983.3" stroke="#8a8a8a" stroke-width="0.8" />
<line x1="259.2" y1="997.5" x2="264.2" y2="997.5" stroke="#8a8a8a" stroke-width="0.8" />
<line x1="264.8" y1="650" x2="264.8" y2="797" stroke="#888" stroke-width="0.8" />
<text x="266.7" y="961.3" font-size="9.7" fill="#727272" text-anchor="start" textLength="162.5" lengthAdjust="spacingAndGlyphs" >rebro sendvič lima u pogledu d=6cm</text>
<text x="267" y="974.2" font-size="9.7" fill="#727272" text-anchor="start" textLength="87.2" lengthAdjust="spacingAndGlyphs" >sendvic lim d=10cm</text>
<text x="267" y="987" font-size="9.7" fill="#727272" text-anchor="start" textLength="115.2" lengthAdjust="spacingAndGlyphs" >sekundarni nosač d=55cm</text>
<text x="268.3" y="1000.8" font-size="9.7" fill="#727272" text-anchor="start" textLength="94.2" lengthAdjust="spacingAndGlyphs" >glavni nosač d=77cm</text>
<text x="239.7" y="906.2" font-size="9.7" fill="#727272" text-anchor="start" textLength="65.6" lengthAdjust="spacingAndGlyphs" >spušteni plafon</text>
<polyline points="312.5,902.2 375.8,902.2 431.5,796.5" fill="none" stroke="#aaa" stroke-width="0.8" />
<text x="928" y="905.9" font-size="9.7" fill="#727272" text-anchor="start" textLength="65.3" lengthAdjust="spacingAndGlyphs" >spušteni plafon</text>
<polyline points="920,902.1 856.5,902.1 805.3,796.5" fill="none" stroke="#aaa" stroke-width="0.8" />
<line x1="1213" y1="925" x2="1484" y2="925" stroke="#9a9a9a" stroke-width="1" />
<line x1="1223.6" y1="921" x2="1223.6" y2="1049" stroke="#9a9a9a" stroke-width="1" />
<line x1="1480.6" y1="925" x2="1480.6" y2="1054" stroke="#9a9a9a" stroke-width="1" />
<line x1="1438" y1="925" x2="1438" y2="1054" stroke="#9a9a9a" stroke-width="1" />
<line x1="1330.4" y1="968" x2="1330.4" y2="1054" stroke="#9a9a9a" stroke-width="1" />
<line x1="1213" y1="968" x2="1484" y2="968" stroke="#9a9a9a" stroke-width="1" />
<line x1="1213" y1="989.4" x2="1484" y2="989.4" stroke="#9a9a9a" stroke-width="1" />
<line x1="1213" y1="1010.4" x2="1484" y2="1010.4" stroke="#9a9a9a" stroke-width="1" />
<line x1="1223.6" y1="1049" x2="1480.6" y2="1049" stroke="#9a9a9a" stroke-width="1" />
<text x="1228" y="939.4" font-size="9" fill="#747474" text-anchor="start" textLength="86" lengthAdjust="spacingAndGlyphs" >Univerzitet Crne Gore</text>
<text x="1228.6" y="950" font-size="9" fill="#747474" text-anchor="start" textLength="82.4" lengthAdjust="spacingAndGlyphs" >Arhitektonski fakultet</text>
<text x="1228" y="960.4" font-size="9" fill="#747474" text-anchor="start" textLength="42.4" lengthAdjust="spacingAndGlyphs" >Podgorica</text>
<text x="1441.4" y="938.6" font-size="8.5" fill="#747474" text-anchor="start" textLength="31.2" lengthAdjust="spacingAndGlyphs" >Prilog br.</text>
<text x="1456" y="948.4" font-size="8.5" fill="#747474" text-anchor="start" >8</text>
<text x="1227.6" y="977.4" font-size="8.5" fill="#747474" text-anchor="start" textLength="31.2" lengthAdjust="spacingAndGlyphs" >Profesor:</text>
<text x="1227.6" y="987" font-size="8.5" fill="#747474" text-anchor="start" textLength="98.4" lengthAdjust="spacingAndGlyphs" >Prof. Dr Goran Radović dia</text>
<text x="1334.4" y="977.6" font-size="8.5" fill="#747474" text-anchor="start" textLength="60.6" lengthAdjust="spacingAndGlyphs" >Naziv predmeta:</text>
<text x="1334.4" y="987" font-size="8.5" fill="#747474" text-anchor="start" textLength="66.6" lengthAdjust="spacingAndGlyphs" >Sintezni projekat III</text>
<text x="1441" y="977" font-size="8.5" fill="#747474" text-anchor="start" textLength="26.4" lengthAdjust="spacingAndGlyphs" >Ak.god</text>
<text x="1441" y="987" font-size="8.5" fill="#747474" text-anchor="start" textLength="28.6" lengthAdjust="spacingAndGlyphs" >2014/15</text>
<text x="1228.6" y="998.4" font-size="8.5" fill="#747474" text-anchor="start" textLength="69" lengthAdjust="spacingAndGlyphs" >Saradnik u nastavi:</text>
<text x="1228.6" y="1008" font-size="8.5" fill="#747474" text-anchor="start" textLength="70.8" lengthAdjust="spacingAndGlyphs" >Branko Lutovac dia</text>
<text x="1334.6" y="998" font-size="8.5" fill="#747474" text-anchor="start" textLength="53.8" lengthAdjust="spacingAndGlyphs" >Naziv projekta:</text>
<text x="1334.6" y="1008" font-size="8.5" fill="#747474" text-anchor="start" textLength="52.8" lengthAdjust="spacingAndGlyphs" >Fabrika obuće</text>
<text x="1440.6" y="999.4" font-size="8.5" fill="#747474" text-anchor="start" textLength="26.8" lengthAdjust="spacingAndGlyphs" >Datum:</text>
<text x="1440.6" y="1009" font-size="8.5" fill="#747474" text-anchor="start" textLength="34.8" lengthAdjust="spacingAndGlyphs" >13.1.2015.</text>
<text x="1229.6" y="1024" font-size="8.5" fill="#747474" text-anchor="start" textLength="30.4" lengthAdjust="spacingAndGlyphs" >Student:</text>
<text x="1229.6" y="1034" font-size="8.5" fill="#747474" text-anchor="start" textLength="71" lengthAdjust="spacingAndGlyphs" >Tanja Radovanović</text>
<text x="1229.6" y="1043.6" font-size="8.5" fill="#747474" text-anchor="start" textLength="20" lengthAdjust="spacingAndGlyphs" >13/12</text>
<text x="1334.6" y="1021.4" font-size="8.5" fill="#747474" text-anchor="start" textLength="46.8" lengthAdjust="spacingAndGlyphs" >Naziv crteža:</text>
<text x="1334.6" y="1031" font-size="8.5" fill="#747474" text-anchor="start" textLength="23" lengthAdjust="spacingAndGlyphs" >Detalji</text>
<text x="1440.6" y="1022" font-size="8.5" fill="#747474" text-anchor="start" textLength="36" lengthAdjust="spacingAndGlyphs" >Razmjera:</text>
<text x="1451.6" y="1041" font-size="8.5" fill="#747474" text-anchor="start" textLength="15" lengthAdjust="spacingAndGlyphs" >1:10</text>
<line x1="184" y1="124.9" x2="277.6" y2="124.9" stroke="#d99c98" stroke-width="1" stroke-dasharray="5,3"/>
<line x1="243.5" y1="87" x2="243.5" y2="447" stroke="#d99c98" stroke-width="1" stroke-dasharray="5,3"/>
<line x1="125.2" y1="157" x2="125.2" y2="450" stroke="#d99c98" stroke-width="1" stroke-dasharray="5,3"/>
<line x1="469.8" y1="144" x2="469.8" y2="448" stroke="#d99c98" stroke-width="1" stroke-dasharray="5,3"/>
<line x1="1164.4" y1="48.2" x2="1164.4" y2="495.5" stroke="#c4c4c4" stroke-width="0.9"/>
<line x1="643.3" y1="139.7" x2="746.9" y2="457" stroke="#d99c98" stroke-width="1" stroke-dasharray="5,3"/>
<line x1="1248.7" y1="631.4" x2="1424.4" y2="631.4" stroke="#d99c98" stroke-width="1" stroke-dasharray="5,3"/>
<line x1="1453.3" y1="239" x2="1453.3" y2="600.2" stroke="#d99c98" stroke-width="1" stroke-dasharray="5,3"/>
<line x1="102.1" y1="507" x2="102.1" y2="855" stroke="#d99c98" stroke-width="1" stroke-dasharray="5,3"/>
<line x1="1195" y1="524" x2="1195" y2="882" stroke="#c4c4c4" stroke-width="0.9" stroke-dasharray="5,3"/>
<line x1="617.5" y1="488" x2="617.5" y2="993.5" stroke="#d99c98" stroke-width="1" stroke-dasharray="5,3"/>
<line x1="530" y1="958.2" x2="712.5" y2="958.2" stroke="#d99c98" stroke-width="1" stroke-dasharray="5,3"/>
</svg></body></html>
